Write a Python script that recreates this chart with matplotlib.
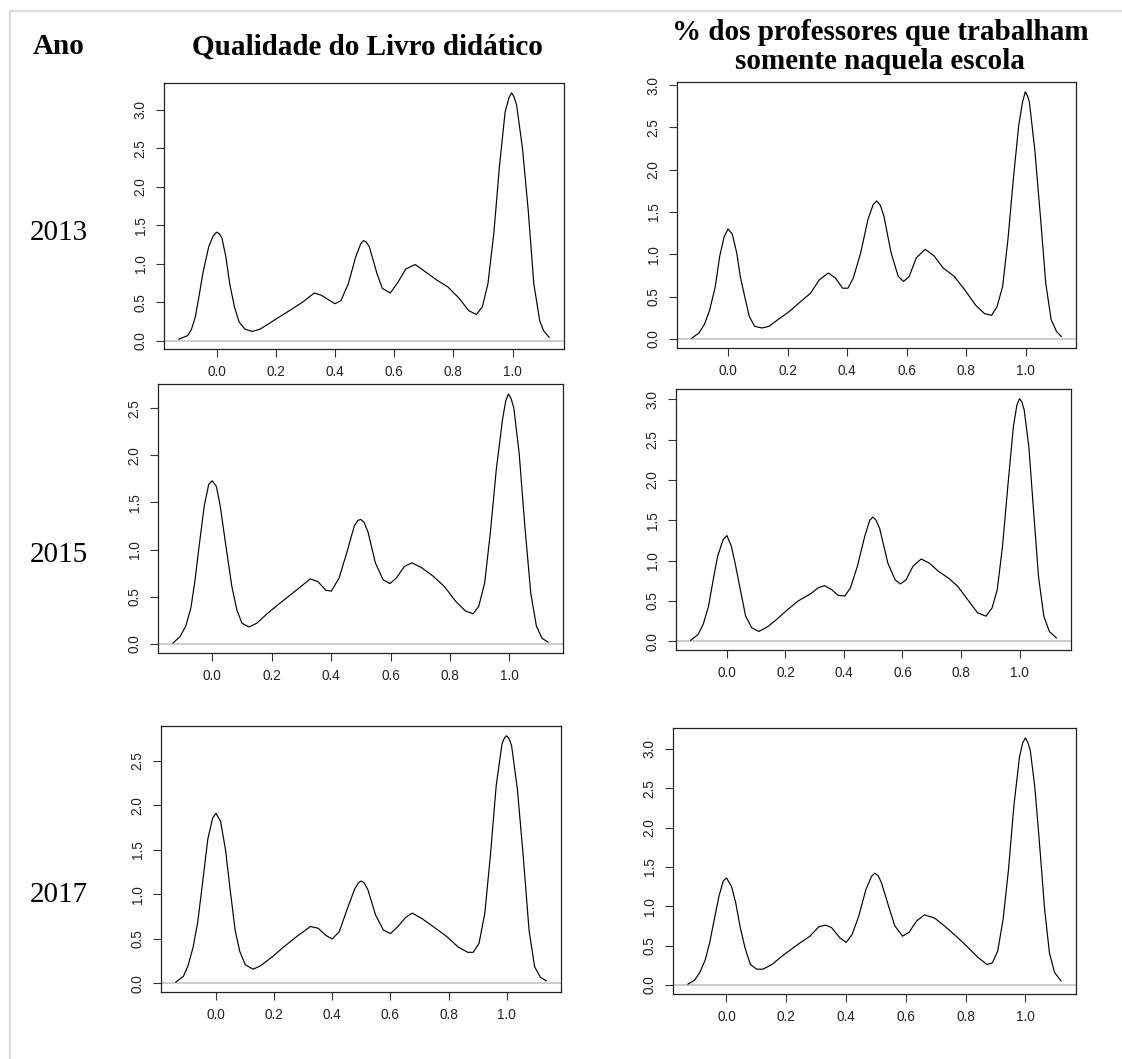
import matplotlib
matplotlib.use('Agg')
import matplotlib.pyplot as plt
import matplotlib.lines as mlines

# Kernel density curves (x = share, y = density), one per year and indicator
qualidade_2013_x = [-0.128, -0.098, -0.085, -0.072, -0.060, -0.047, -0.027, -0.012, 0.000, 0.009, 0.018, 0.031,
                    0.044, 0.060, 0.076, 0.096, 0.120, 0.147, 0.200, 0.250, 0.290, 0.330, 0.354, 0.400, 0.420,
                    0.445, 0.470, 0.487, 0.497, 0.506, 0.516, 0.542, 0.560, 0.587, 0.613, 0.639, 0.671, 0.704,
                    0.743, 0.781, 0.820, 0.852, 0.878, 0.898, 0.917, 0.937, 0.956, 0.975, 0.988, 0.997, 1.005,
                    1.014, 1.034, 1.053, 1.072, 1.092, 1.105, 1.124]
qualidade_2013_y = [0.02, 0.066, 0.15, 0.31, 0.57, 0.87, 1.22, 1.36, 1.41, 1.39, 1.33, 1.09,
                    0.74, 0.44, 0.24, 0.15, 0.12, 0.15, 0.28, 0.40, 0.50, 0.62, 0.59, 0.48, 0.52,
                    0.74, 1.09, 1.26, 1.30, 1.28, 1.22, 0.87, 0.68, 0.62, 0.76, 0.93, 0.99, 0.90,
                    0.79, 0.70, 0.55, 0.39, 0.34, 0.44, 0.74, 1.40, 2.27, 2.97, 3.16, 3.22, 3.17,
                    3.06, 2.49, 1.70, 0.74, 0.26, 0.13, 0.044]

professores_2013_x = [-0.122, -0.098, -0.080, -0.062, -0.043, -0.028, -0.013, 0.000, 0.014, 0.029, 0.041,
                      0.056, 0.071, 0.089, 0.114, 0.138, 0.168, 0.204, 0.240, 0.277, 0.307, 0.337, 0.361,
                      0.385, 0.403, 0.421, 0.446, 0.470, 0.488, 0.500, 0.512, 0.524, 0.548, 0.572, 0.590,
                      0.609, 0.633, 0.663, 0.693, 0.723, 0.760, 0.796, 0.832, 0.862, 0.886, 0.904, 0.923,
                      0.941, 0.959, 0.977, 0.990, 0.999, 1.006, 1.013, 1.031, 1.050, 1.068, 1.086, 1.104, 1.120]
professores_2013_y = [0.01, 0.07, 0.17, 0.34, 0.62, 0.98, 1.21, 1.30, 1.24, 1.02, 0.74,
                      0.50, 0.27, 0.15, 0.13, 0.15, 0.23, 0.32, 0.43, 0.54, 0.70, 0.78, 0.72,
                      0.60, 0.60, 0.72, 1.02, 1.41, 1.59, 1.63, 1.58, 1.45, 1.02, 0.74, 0.68,
                      0.74, 0.96, 1.06, 0.98, 0.84, 0.74, 0.58, 0.40, 0.30, 0.28, 0.38, 0.62,
                      1.18, 1.89, 2.52, 2.80, 2.92, 2.88, 2.80, 2.24, 1.45, 0.66, 0.23, 0.09, 0.03]

qualidade_2015_x = [-0.132, -0.108, -0.089, -0.072, -0.059, -0.044, -0.027, -0.012, 0.000, 0.014, 0.027,
                    0.046, 0.066, 0.083, 0.100, 0.124, 0.150, 0.188, 0.227, 0.279, 0.330, 0.356, 0.382,
                    0.401, 0.427, 0.453, 0.478, 0.490, 0.500, 0.511, 0.524, 0.549, 0.575, 0.598, 0.620,
                    0.646, 0.672, 0.704, 0.743, 0.781, 0.820, 0.852, 0.878, 0.897, 0.917, 0.936, 0.956,
                    0.977, 0.988, 0.997, 1.006, 1.015, 1.033, 1.052, 1.072, 1.091, 1.110, 1.130]
qualidade_2015_y = [0.01, 0.08, 0.19, 0.38, 0.65, 1.04, 1.46, 1.69, 1.73, 1.67, 1.46,
                    1.04, 0.61, 0.36, 0.22, 0.18, 0.22, 0.33, 0.43, 0.56, 0.69, 0.66, 0.57,
                    0.56, 0.70, 0.97, 1.25, 1.31, 1.32, 1.29, 1.19, 0.86, 0.68, 0.64, 0.70,
                    0.82, 0.86, 0.81, 0.72, 0.61, 0.45, 0.35, 0.32, 0.40, 0.65, 1.18, 1.85,
                    2.38, 2.58, 2.65, 2.60, 2.50, 2.02, 1.25, 0.54, 0.19, 0.06, 0.02]

professores_2015_x = [-0.124, -0.099, -0.081, -0.063, -0.047, -0.032, -0.013, 0.000, 0.015, 0.029, 0.048,
                      0.064, 0.085, 0.109, 0.140, 0.170, 0.207, 0.244, 0.287, 0.311, 0.333, 0.358, 0.379,
                      0.403, 0.422, 0.446, 0.471, 0.488, 0.499, 0.510, 0.522, 0.550, 0.575, 0.593, 0.612,
                      0.636, 0.664, 0.691, 0.722, 0.758, 0.789, 0.826, 0.857, 0.885, 0.906, 0.924, 0.942,
                      0.961, 0.979, 0.991, 1.000, 1.008, 1.016, 1.032, 1.047, 1.065, 1.083, 1.102, 1.126]
professores_2015_y = [0.01, 0.08, 0.21, 0.43, 0.76, 1.05, 1.26, 1.31, 1.18, 0.95, 0.60,
                      0.31, 0.165, 0.12, 0.18, 0.27, 0.39, 0.50, 0.59, 0.66, 0.69, 0.64, 0.57,
                      0.56, 0.66, 0.93, 1.30, 1.50, 1.54, 1.50, 1.40, 0.97, 0.76, 0.71, 0.76,
                      0.93, 1.02, 0.97, 0.87, 0.78, 0.68, 0.50, 0.35, 0.31, 0.41, 0.64, 1.18,
                      1.96, 2.66, 2.93, 3.01, 2.97, 2.87, 2.41, 1.67, 0.80, 0.31, 0.12, 0.04]

qualidade_2017_x = [-0.138, -0.112, -0.096, -0.079, -0.063, -0.046, -0.028, -0.011, 0.000, 0.016, 0.033,
                    0.049, 0.066, 0.082, 0.101, 0.128, 0.154, 0.194, 0.233, 0.279, 0.325, 0.352, 0.378,
                    0.400, 0.424, 0.451, 0.477, 0.490, 0.499, 0.510, 0.523, 0.549, 0.576, 0.600, 0.626,
                    0.652, 0.675, 0.708, 0.747, 0.793, 0.833, 0.866, 0.885, 0.905, 0.925, 0.945, 0.964,
                    0.984, 0.993, 1.000, 1.008, 1.017, 1.037, 1.057, 1.077, 1.096, 1.116, 1.136]
qualidade_2017_y = [0.015, 0.08, 0.20, 0.40, 0.68, 1.13, 1.62, 1.86, 1.91, 1.82, 1.50,
                    1.05, 0.60, 0.36, 0.21, 0.16, 0.20, 0.30, 0.41, 0.53, 0.64, 0.62, 0.54,
                    0.50, 0.58, 0.83, 1.06, 1.13, 1.15, 1.13, 1.05, 0.77, 0.60, 0.56, 0.64,
                    0.74, 0.79, 0.73, 0.64, 0.53, 0.41, 0.35, 0.35, 0.45, 0.79, 1.47, 2.22,
                    2.69, 2.76, 2.78, 2.75, 2.67, 2.18, 1.43, 0.60, 0.19, 0.07, 0.03]

professores_2017_x = [-0.129, -0.107, -0.089, -0.071, -0.056, -0.041, -0.025, -0.011, 0.000, 0.017, 0.031,
                      0.046, 0.062, 0.080, 0.101, 0.122, 0.152, 0.194, 0.237, 0.279, 0.309, 0.331, 0.351,
                      0.379, 0.400, 0.420, 0.442, 0.466, 0.485, 0.496, 0.507, 0.518, 0.539, 0.563, 0.589,
                      0.611, 0.635, 0.662, 0.696, 0.732, 0.768, 0.804, 0.841, 0.871, 0.889, 0.907, 0.925,
                      0.943, 0.961, 0.980, 0.991, 1.000, 1.008, 1.016, 1.031, 1.046, 1.064, 1.080, 1.097, 1.119]
professores_2017_y = [0.01, 0.06, 0.16, 0.32, 0.54, 0.83, 1.13, 1.32, 1.36, 1.25, 1.04,
                      0.73, 0.47, 0.26, 0.20, 0.20, 0.26, 0.39, 0.51, 0.62, 0.74, 0.76, 0.73,
                      0.60, 0.54, 0.64, 0.87, 1.21, 1.38, 1.42, 1.39, 1.30, 1.04, 0.75, 0.62,
                      0.67, 0.81, 0.89, 0.85, 0.74, 0.62, 0.49, 0.35, 0.26, 0.28, 0.43, 0.83,
                      1.46, 2.27, 2.90, 3.08, 3.14, 3.08, 2.98, 2.52, 1.84, 0.96, 0.41, 0.16, 0.05]

years = ["2013", "2015", "2017"]
col_headers = ["Qualidade do Livro didático", "% dos professores que trabalham\nsomente naquela escola"]
x_ticks = [0.0, 0.2, 0.4, 0.6, 0.8, 1.0]
y_ticks_25 = [0.0, 0.5, 1.0, 1.5, 2.0, 2.5]
y_ticks_30 = [0.0, 0.5, 1.0, 1.5, 2.0, 2.5, 3.0]

W, H = 1122, 1059


def px_rect(x0, y0, x1, y1):
    # pixel box (top-left origin) -> figure fraction rect
    return [x0 / W, 1 - y1 / H, (x1 - x0) / W, (y1 - y0) / H]


def density_panel(fig, rect, xs, ys, yticks):
    ax = fig.add_axes(rect)
    ax.axhline(0, color="#c8c8c8", lw=1.3, zorder=1)
    ax.plot(xs, ys, color="black", lw=0.85, zorder=2)

    # R-style 4% padding around the data range
    xr = max(xs) - min(xs)
    yr = max(ys) - min(ys)
    ax.set_xlim(min(xs) - 0.04 * xr, max(xs) + 0.04 * xr)
    ax.set_ylim(min(ys) - 0.04 * yr, max(ys) + 0.04 * yr)

    ax.set_xticks(x_ticks)
    ax.set_xticklabels([f"{t:.1f}" for t in x_ticks])
    ax.set_yticks(yticks)
    ax.set_yticklabels([f"{t:.1f}" for t in yticks])
    ax.tick_params(direction="out", length=5.8, width=0.8, pad=6,
                   labelsize=9.8, colors="#333333", labelcolor="#222222")
    for lab in ax.get_yticklabels():
        lab.set_rotation(90)
        lab.set_va("center")
    for sp in ax.spines.values():
        sp.set_linewidth(0.9)
        sp.set_color("#222222")
    return ax


def build_figure(output="out.png"):
    plt.rcParams["font.family"] = ["Liberation Sans", "DejaVu Sans"]
    fig = plt.figure(figsize=(W / 100, H / 100), dpi=100)

    # light table border (top and left edges)
    fig.add_artist(mlines.Line2D([9.5 / W, 1.0], [1 - 11 / H, 1 - 11 / H],
                                 transform=fig.transFigure, color="#dcdcdc", lw=1.6))
    fig.add_artist(mlines.Line2D([9.5 / W, 9.5 / W], [0.0, 1 - 11 / H],
                                 transform=fig.transFigure, color="#dcdcdc", lw=1.6))

    panels = [
        (px_rect(164, 83, 564, 349), qualidade_2013_x, qualidade_2013_y, y_ticks_30),
        (px_rect(677, 82, 1076, 348), professores_2013_x, professores_2013_y, y_ticks_30),
        (px_rect(158, 384, 563, 653), qualidade_2015_x, qualidade_2015_y, y_ticks_25),
        (px_rect(676, 389, 1071, 650), professores_2015_x, professores_2015_y, y_ticks_30),
        (px_rect(161, 726, 561, 992), qualidade_2017_x, qualidade_2017_y, y_ticks_25),
        (px_rect(673, 728, 1076, 994), professores_2017_x, professores_2017_y, y_ticks_30),
    ]
    for rect, xs, ys, yt in panels:
        density_panel(fig, rect, xs, ys, yt)

    serif = ["Liberation Serif", "DejaVu Serif"]
    fig.text(59 / W, 1 - 47 / H, "Ano", family=serif, weight="bold", fontsize=21,
             ha="center", va="center")
    fig.text(367 / W, 1 - 47 / H, col_headers[0], family=serif, weight="bold", fontsize=21,
             ha="center", va="center")
    fig.text(880 / W, 1 - 47 / H, col_headers[1], family=serif, weight="bold", fontsize=21,
             ha="center", va="center", linespacing=1.1)

    for year, yc in zip(years, [233, 555, 895]):
        fig.text(59 / W, 1 - yc / H, year, family=serif, fontsize=21, ha="center", va="center")

    fig.savefig(output, dpi=100, facecolor="white")
    plt.close(fig)


if __name__ == "__main__":
    build_figure()
